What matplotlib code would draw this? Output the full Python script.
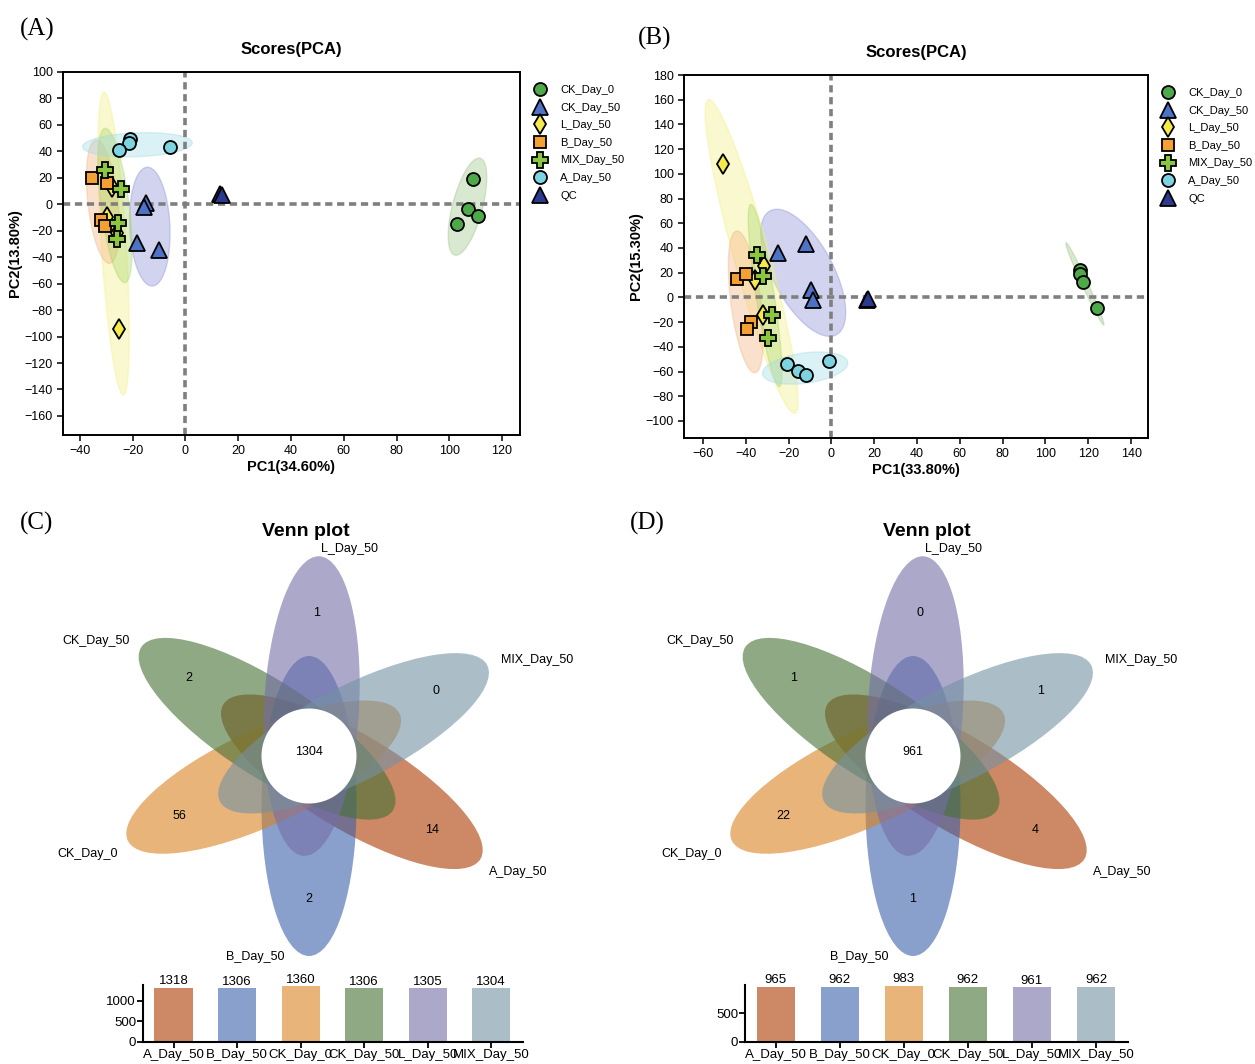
import numpy as np
import matplotlib
matplotlib.use("Agg")
import matplotlib.pyplot as plt
from matplotlib.patches import Ellipse, Circle
from matplotlib.lines import Line2D

plt.rcParams['font.family'] = ['Liberation Sans', 'DejaVu Sans']

W, H = 1255, 1064

# ---- PCA data ----
groups = ["CK_Day_0", "CK_Day_50", "L_Day_50", "B_Day_50", "MIX_Day_50", "A_Day_50", "QC"]

# panel A scores
a_pc1 = {
    "CK_Day_0": [109, 107, 111, 103],
    "CK_Day_50": [-15, -15.6, -18.5, -10],
    "L_Day_50": [-28, -29.9, -26, -25.2],
    "B_Day_50": [-35.3, -29.8, -32, -30.3],
    "MIX_Day_50": [-30.5, -24.5, -25.5, -26],
    "A_Day_50": [-21, -21.3, -25.2, -5.9],
    "QC": [13, 14],
}
a_pc2 = {
    "CK_Day_0": [19.4, -3.3, -8.8, -14.7],
    "CK_Day_50": [1.2, -1.8, -29, -34.5],
    "L_Day_50": [13.3, -9.4, -22, -94.5],
    "B_Day_50": [20, 16.3, -11.9, -16.2],
    "MIX_Day_50": [26, 11.6, -13.9, -26.5],
    "A_Day_50": [49.3, 46, 41, 43],
    "QC": [8, 7],
}
# confidence ellipses panel A: centre, semi-diameter u, conjugate semi-diameter v
a_ell = {
    "CK_Day_0": [(106.9, -1.8), (4.8, 36.6), (5.5, -2.8)],
    "CK_Day_50": [(-13.5, -16.9), (-1.0, 44.9), (7.6, 0.7)],
    "L_Day_50": [(-27.2, -29.7), (-3.6, 114.4), (4.7, 0.1)],
    "B_Day_50": [(-31.3, 2.0), (-2.6, 46.6), (5.65, 1.3)],
    "MIX_Day_50": [(-26.7, -0.9), (-3.8, 58.3), (5.3, 1.36)],
    "A_Day_50": [(-18.2, 45.0), (20.8, 1.5), (0.0, 9.0)],
}

# panel B scores
b_pc1 = {
    "CK_Day_0": [116.2, 116.2, 117.4, 124],
    "CK_Day_50": [-25.1, -12, -9.5, -8.5],
    "L_Day_50": [-50.8, -31.3, -35.7, -32.1],
    "B_Day_50": [-44.3, -40, -37.7, -39.6],
    "MIX_Day_50": [-34.6, -32.1, -27.9, -29.5],
    "A_Day_50": [-20.9, -15.5, -11.9, -1.1],
    "QC": [16.8, 17.3],
}
b_pc2 = {
    "CK_Day_0": [21.8, 19, 12.6, -8.5],
    "CK_Day_50": [35.6, 42.9, 6.3, -1.8],
    "L_Day_50": [107.7, 25.3, 14.4, -14],
    "B_Day_50": [15, 19.3, -20.2, -25.6],
    "MIX_Day_50": [34.7, 17.1, -14, -32.9],
    "A_Day_50": [-54, -59.5, -62.7, -51.3],
    "QC": [-1.8, -1.2],
}
b_ell = {
    "CK_Day_0": [(118.4, 11.0), (-8.8, 33.2), (1.27, 1.0)],
    "CK_Day_50": [(-13.2, 19.9), (-15.5, 50.1), (12.4, 11.6)],
    "L_Day_50": [(-37.3, 33.1), (-20.2, 126.9), (8.0, 3.9)],
    "B_Day_50": [(-40.0, -3.6), (-4.3, 57.3), (6.96, 1.54)],
    "MIX_Day_50": [(-31.0, 1.6), (-6.7, 73.7), (4.16, 1.14)],
    "A_Day_50": [(-12.3, -57.2), (19.9, 3.7), (0.8, 12.5)],
}

# ---- Venn data ----
venn_sets = ["A_Day_50", "B_Day_50", "CK_Day_0", "CK_Day_50", "L_Day_50", "MIX_Day_50"]
c_unique = [14, 2, 56, 2, 1, 0]
c_core = 1304
c_totals = [1318, 1306, 1360, 1306, 1305, 1304]
d_unique = [4, 1, 22, 1, 0, 1]
d_core = 961
d_totals = [965, 962, 983, 962, 961, 962]

# ---- styles ----
mk = {"CK_Day_0": ("o", "#4fa84a", 11), "CK_Day_50": ("^", "#4d72c6", 13),
      "L_Day_50": ("d", "#f6ea4a", 12), "B_Day_50": ("s", "#f5a033", 10),
      "MIX_Day_50": ("P", "#8cc63f", 13), "A_Day_50": ("o", "#7dd3e0", 11),
      "QC": ("^", "#2b3a8f", 13)}
ell_col = {"CK_Day_0": "#9cc486", "CK_Day_50": "#8990d6", "L_Day_50": "#f4ef80",
           "B_Day_50": "#f4b27e", "MIX_Day_50": "#a9d66c", "A_Day_50": "#9fdbe6"}
# base colours, drawn with alpha 0.6
venn_col = {"A_Day_50": "#ac3900", "B_Day_50": "#3c61aa", "CK_Day_0": "#d98221",
            "CK_Day_50": "#447134", "L_Day_50": "#756ea8", "MIX_Day_50": "#7391a3"}
petal_ang = {"A_Day_50": -31, "B_Day_50": -90, "CK_Day_0": 205, "CK_Day_50": 147,
             "L_Day_50": 87, "MIX_Day_50": 27}
label_off = {"A_Day_50": (209, -116), "B_Day_50": (-54, -201), "CK_Day_0": (-221, -98),
             "CK_Day_50": (-213, 115), "L_Day_50": (41, 207), "MIX_Day_50": (228, 96)}


def px_axes(x0, y0, x1, y1):
    return fig.add_axes([x0 / W, 1 - y1 / H, (x1 - x0) / W, (y1 - y0) / H])


def pca_panel(ax, pc1, pc2, ells, xlim, ylim, xt, yt, xlab, ylab):
    t = np.linspace(0, 2 * np.pi, 200)
    for g, (c, u, v) in ells.items():
        ex = c[0] + u[0] * np.cos(t) + v[0] * np.sin(t)
        ey = c[1] + u[1] * np.cos(t) + v[1] * np.sin(t)
        ax.fill(ex, ey, color=ell_col[g], alpha=0.38, lw=1, zorder=1)
    ax.axvline(0, color="#7f7f7f", lw=2.6, dashes=(2, 1.3), zorder=2)
    ax.axhline(0, color="#7f7f7f", lw=2.6, dashes=(2, 1.3), zorder=2)
    for g in groups:
        m, col, s = mk[g]
        ax.plot(pc1[g], pc2[g], ls="none", marker=m, ms=s * 0.85, mfc=col,
                mec="black", mew=1.3, zorder=3)
    ax.set_xlim(*xlim)
    ax.set_ylim(*ylim)
    ax.set_xticks(xt)
    ax.set_yticks(yt)
    ax.tick_params(direction="out", length=4, width=1.1, labelsize=9)
    for sp in ax.spines.values():
        sp.set_linewidth(1.4)
    ax.set_xlabel(xlab, fontsize=10.5, fontweight="bold", labelpad=2)
    ax.set_ylabel(ylab, fontsize=10.5, fontweight="bold", labelpad=2)
    ax.set_title("Scores(PCA)", fontsize=12, fontweight="bold", pad=13)
    handles = [Line2D([], [], ls="none", marker=mk[g][0], ms=mk[g][2] * 0.85,
                      mfc=mk[g][1], mec="black", mew=1.3) for g in groups]
    ax.legend(handles, groups, loc="upper left", bbox_to_anchor=(1.003, 0.985),
              frameon=False, fontsize=8, handletextpad=0.8, labelspacing=0.68,
              borderaxespad=0.3)


def venn_panel(box, cx, cy, unique, core, title_dx):
    x0, y0, x1, y1 = box
    ax = px_axes(x0, y0, x1, y1)
    ax.set_xlim(x0 - cx, x1 - cx)
    ax.set_ylim(cy - y1, cy - y0)
    ax.axis("off")
    d, a, b = 50, 150, 47.5
    for s in venn_sets:
        th = np.deg2rad(petal_ang[s])
        ax.add_patch(Ellipse((d * np.cos(th), d * np.sin(th)), 2 * a, 2 * b,
                             angle=petal_ang[s], fc=venn_col[s], ec="none", alpha=0.6))
    ax.add_patch(Circle((0, 0), 47.5, fc="white", ec="none"))
    ax.text(0, 4, str(core), ha="center", va="center", fontsize=9)
    for s, n in zip(venn_sets, unique):
        th = np.deg2rad(petal_ang[s])
        ax.text(143 * np.cos(th), 143 * np.sin(th), str(n), ha="center", va="center", fontsize=9)
        ox, oy = label_off[s]
        ax.text(ox, oy, s, ha="center", va="center", fontsize=9)
    ax.text(title_dx, 224, "Venn plot", ha="center", va="center", fontsize=14, fontweight="bold")


def bar_panel(box, totals, ylim, yt):
    ax = px_axes(*box)
    x = np.arange(len(venn_sets))
    ax.bar(x, totals, width=0.6, color=[venn_col[s] for s in venn_sets], alpha=0.6)
    for xi, v in zip(x, totals):
        ax.text(xi, v + ylim[1] * 0.01, str(v), ha="center", va="bottom", fontsize=9.5)
    ax.set_xlim(-0.48, 5.5)
    ax.set_ylim(*ylim)
    ax.set_yticks(yt)
    ax.set_xticks(x)
    ax.set_xticklabels(venn_sets)
    ax.tick_params(direction="out", length=4, width=1.3, labelsize=9.5, pad=1)
    ax.spines[["top", "right"]].set_visible(False)
    for sp in ("left", "bottom"):
        ax.spines[sp].set_linewidth(1.5)


fig = plt.figure(figsize=(W / 100, H / 100), dpi=100)

axA = px_axes(63, 72, 520, 435)
pca_panel(axA, a_pc1, a_pc2, a_ell, (-46.4, 126.8), (-174.4, 100),
          np.arange(-40, 121, 20), np.arange(-160, 101, 20), "PC1(34.60%)", "PC2(13.80%)")
axB = px_axes(684, 75, 1148, 438)
pca_panel(axB, b_pc1, b_pc2, b_ell, (-68.9, 147.9), (-113.8, 180),
          np.arange(-60, 141, 20), np.arange(-100, 181, 20), "PC1(33.80%)", "PC2(15.30%)")

venn_panel((0, 505, 620, 975), 309, 756, c_unique, c_core, -3)
venn_panel((620, 505, 1255, 975), 913, 756, d_unique, d_core, 14)

bar_panel((143, 985, 523, 1042), c_totals, (0, 1387), [0, 500, 1000])
bar_panel((745, 985, 1128, 1042), d_totals, (0, 998), [0, 500])

for lab, (x, y) in zip(["(A)", "(B)", "(C)", "(D)"], [(37, 29), (655, 38), (37, 523), (647, 523)]):
    fig.text(x / W, 1 - y / H, lab, ha="center", va="center", fontsize=18,
             family=["Liberation Serif", "DejaVu Serif"])

fig.savefig("out.png", dpi=100)
